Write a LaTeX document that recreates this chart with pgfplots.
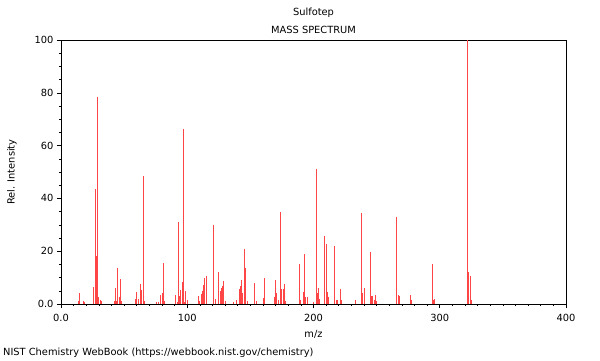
\documentclass[border=0pt]{standalone}
\usepackage{pgfplots}
\pgfplotsset{compat=1.18}
\usepackage{fontspec}
\setmainfont{DejaVu Sans}
\definecolor{peak}{RGB}{255,70,70}
\begin{document}
\begin{tikzpicture}[x=1pt,y=1pt]
\path[use as bounding box] (0,0) rectangle (600,360);
\begin{axis}[
  at={(61pt,56pt)}, anchor=south west,
  scale only axis, width=505pt, height=264pt,
  xmin=0, xmax=400, ymin=0, ymax=100,
  xtick={0,100,200,300,400}, xticklabels={0.0,100,200,300,400},
  ytick={0,20,40,60,80,100}, yticklabels={0.0,20,40,60,80,100},
  minor x tick num=9, minor y tick num=3,
  xtick pos=bottom, ytick pos=left, tick align=outside,
  major tick length=4pt, minor tick length=2pt,
  every tick/.style={black, line width=0.6pt},
  axis line style={black, line width=0.7pt},
  /pgf/number format/assume math mode=true,
  ticklabel style={font=\fontsize{9.85}{11}\selectfont},
  xticklabel style={yshift=-3pt},
  clip=true,
]
\addplot[ycomb, draw=peak, line width=1pt, mark=none] coordinates {
(14,1.0) (15,4.3) (18,1.3) (19,0.8) (26,6.6) (27,43.5) (28,18) (29,78.3)
(30,2.8) (31,1.7) (32,1.0) (42,1.0) (43,5.9) (44,1.0) (45,13.5) (46,2.8)
(47,9.4) (48,1.3) (59,1.8) (60,4.4) (61,1.8) (63,7.6) (64,5.3) (65,48.5)
(66,1.0) (76,0.6) (77,0.8) (79,3.4) (80,4.3) (81,15.6) (82,1.2) (91,3.4)
(92,0.6) (93,31.2) (94,3.0) (95,5.3) (96,8.2) (97,66.3) (98,0.8) (99,5.0)
(100,1.5) (109,3.1) (110,1.0) (111,3.7) (112,5.0) (113,7.3) (114,10.0)
(115,10.6) (121,29.8) (122,2.0) (125,12.2) (126,4.9) (127,5.9) (128,6.8)
(129,8.7) (130,1.0) (137,0.8) (139,1.5) (141,5.6) (142,6.8) (143,9.1)
(144,4.0) (145,20.8) (146,13.5) (148,1.0) (153,8.1) (155,1.0) (160,2.1)
(161,9.8) (169,2.5) (170,9.1) (171,4.2) (172,1.5) (174,34.7) (175,5.6)
(176,5.6) (177,7.6) (178,1.0) (189,15.2) (190,1.5) (192,4.7) (193,19.0)
(194,2.5) (195,2.5) (200,0.8) (202,51.0) (203,4.0) (204,6.0) (205,2.0)
(209,25.8) (210,22.6) (211,4.4) (212,2.8) (217,22.0) (218,1.5) (219,1.5)
(221,5.6) (222,1.7) (233,1.4) (238,34.6) (239,4.0) (240,5.9) (245,19.8)
(246,3.0) (247,3.0) (248,1.4) (249,3.4) (250,1.0) (266,33.0) (267,3.3)
(268,3.0) (277,3.5) (278,1.5) (294,15.2) (295,1.5) (296,2.0) (322,100)
(323,12.0) (324,10.7) (325,1.5)
};
\end{axis}
\node[font=\fontsize{9.85}{11}\selectfont] at (313.5,347) {Sulfotep};
\node[font=\fontsize{9.85}{11}\selectfont] at (313.5,330) {MASS SPECTRUM};
\node[font=\fontsize{9.85}{11}\selectfont] at (313.5,26) {m/z};
\node[font=\fontsize{9.85}{11}\selectfont, rotate=90] at (12,188) {Rel. Intensity};
\node[font=\fontsize{9.85}{11}\selectfont, anchor=west, inner sep=0pt] at (3,7) {NIST Chemistry WebBook (https://webbook.nist.gov/chemistry)};
\end{tikzpicture}
\end{document}
